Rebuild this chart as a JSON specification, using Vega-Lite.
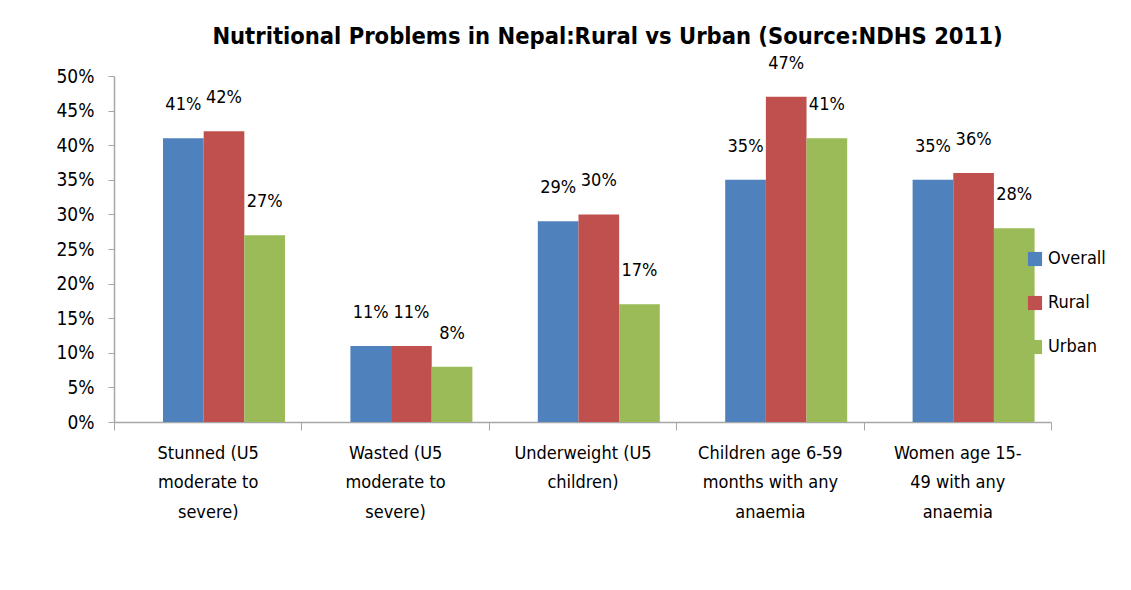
{
  "$schema": "https://vega.github.io/schema/vega-lite/v6.json",
  "width": 937,
  "height": 346,
  "autosize": {"type": "none"},
  "padding": {"left": 114, "top": 76, "right": 80, "bottom": 168},
  "background": "white",
  "title": {
    "text": "Nutritional Problems in Nepal:Rural vs Urban (Source:NDHS 2011)",
    "font": "DejaVu Sans Condensed, Liberation Sans Narrow, Open Sans",
    "fontSize": 23.5,
    "fontWeight": "bold",
    "color": "black",
    "anchor": "middle",
    "dx": 25,
    "offset": 6
  },
  "data": {
    "values": [
      {"category": "Stunned", "series": "Overall", "value": 0.41},
      {"category": "Stunned", "series": "Rural", "value": 0.42},
      {"category": "Stunned", "series": "Urban", "value": 0.27},
      {"category": "Wasted", "series": "Overall", "value": 0.11},
      {"category": "Wasted", "series": "Rural", "value": 0.11},
      {"category": "Wasted", "series": "Urban", "value": 0.08},
      {"category": "Underweight", "series": "Overall", "value": 0.29},
      {"category": "Underweight", "series": "Rural", "value": 0.30},
      {"category": "Underweight", "series": "Urban", "value": 0.17},
      {"category": "Children", "series": "Overall", "value": 0.35},
      {"category": "Children", "series": "Rural", "value": 0.47},
      {"category": "Children", "series": "Urban", "value": 0.41},
      {"category": "Women", "series": "Overall", "value": 0.35},
      {"category": "Women", "series": "Rural", "value": 0.36},
      {"category": "Women", "series": "Urban", "value": 0.28}
    ]
  },
  "encoding": {
    "x": {
      "field": "category",
      "type": "nominal",
      "sort": ["Stunned", "Wasted", "Underweight", "Children", "Women"],
      "scale": {"paddingInner": 0, "paddingOuter": 0},
      "axis": {
        "title": null,
        "labelAngle": 0,
        "labelFont": "DejaVu Sans Condensed, Liberation Sans Narrow, Open Sans",
        "labelFontSize": 18,
        "labelColor": "black",
        "labelLineHeight": 29.5,
        "labelPadding": 14,
        "labelBaseline": "top",
        "domainColor": "#a6a6a6",
        "domainWidth": 1.5,
        "tickColor": "#a6a6a6",
        "tickSize": 8,
        "tickBand": "extent",
        "labelExpr": "datum.value == 'Stunned' ? ['Stunned (U5', 'moderate to', 'severe)'] : datum.value == 'Wasted' ? ['Wasted (U5', 'moderate to', 'severe)'] : datum.value == 'Underweight' ? ['Underweight (U5', 'children)'] : datum.value == 'Children' ? ['Children age 6-59', 'months with any', 'anaemia'] : datum.value == 'Women' ? ['Women age 15-', '49 with any', 'anaemia'] : ''"
      }
    },
    "xOffset": {"field": "series", "type": "nominal", "scale": {"range": [49, 171]}},
    "y": {
      "field": "value",
      "type": "quantitative",
      "scale": {"domain": [0, 0.5]},
      "axis": {
        "title": null,
        "format": ".0%",
        "values": [0, 0.05, 0.1, 0.15, 0.2, 0.25, 0.3, 0.35, 0.4, 0.45, 0.5],
        "labelOverlap": false,
        "grid": false,
        "labelFont": "DejaVu Sans Condensed, Liberation Sans Narrow, Open Sans",
        "labelFontSize": 19,
        "labelColor": "black",
        "labelPadding": 14,
        "domainColor": "#a6a6a6",
        "domainWidth": 1.5,
        "tickColor": "#a6a6a6",
        "tickSize": 6
      }
    },
    "color": {
      "field": "series",
      "type": "nominal",
      "scale": {"domain": ["Overall", "Rural", "Urban"], "range": ["#4F81BD", "#C0504D", "#9BBB59"]},
      "legend": {
        "title": null,
        "orient": "none",
        "legendX": 912,
        "legendY": 174,
        "symbolType": "square",
        "symbolSize": 200,
        "symbolStrokeWidth": 0,
        "labelFont": "DejaVu Sans Condensed, Liberation Sans Narrow, Open Sans",
        "labelFontSize": 18,
        "labelColor": "black",
        "rowPadding": 26,
        "labelOffset": 4
      }
    }
  },
  "layer": [
    {"mark": {"type": "bar"}},
    {
      "mark": {
        "type": "text",
        "baseline": "bottom",
        "dy": -24,
        "font": "DejaVu Sans Condensed, Liberation Sans Narrow, Open Sans",
        "fontSize": 18,
        "color": "black"
      },
      "encoding": {
        "text": {"field": "value", "type": "quantitative", "format": ".0%"},
        "color": {"value": "black"}
      }
    }
  ],
  "config": {"view": {"stroke": null}}
}
